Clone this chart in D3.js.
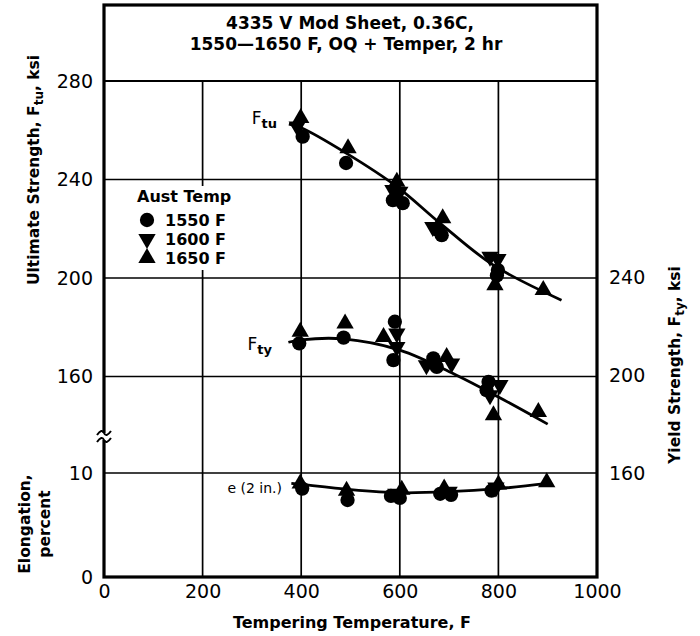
<!DOCTYPE html>
<html>
<head>
<meta charset="utf-8">
<script src="https://cdn.jsdelivr.net/npm/d3@7"></script>
<style>
body { margin: 0; background: #fff; }
text { font-family: "DejaVu Sans", sans-serif; fill: #000; }
</style>
</head>
<body>
<script>
// Ultimate strength points (tempering temp F, ksi, aust temp)
var ftuTemp = [399, 403, 392, 495, 491, 594, 586, 586, 606, 600, 687, 685, 667, 678, 783, 799, 799, 793, 797, 891];
var ftuValue = [265.0, 257.4, 261.5, 252.7, 246.7, 239.1, 235.7, 231.6, 230.4, 235.0, 224.3, 217.4, 220.7, 219.4, 208.6, 207.7, 203.2, 197.1, 201.0, 195.1];
var ftuAust = [1650, 1550, 1600, 1650, 1550, 1650, 1600, 1550, 1550, 1600, 1650, 1550, 1600, 1550, 1600, 1600, 1550, 1650, 1550, 1650];
var ftuCurveTemp = [375, 400, 492, 594, 682, 790, 928];
var ftuCurveValue = [262.5, 261, 250.6, 237.1, 222.2, 205.2, 191.0];

// Yield strength points (right axis, ksi)
var ftyTemp = [398, 396, 489, 486, 590, 567, 594, 587, 594, 668, 695, 705, 675, 654, 780, 803, 783, 776, 790, 881];
var ftyValue = [217.8, 213.0, 221.2, 215.4, 221.9, 215.7, 217.1, 206.2, 211.6, 206.9, 207.5, 204.8, 203.4, 204.1, 197.3, 196.0, 191.8, 193.9, 183.6, 185.0];
var ftyAust = [1650, 1550, 1650, 1550, 1550, 1650, 1600, 1550, 1600, 1550, 1650, 1600, 1550, 1600, 1550, 1600, 1600, 1550, 1650, 1650];
var ftyCurveTemp = [374, 400, 485, 600, 715, 800, 900];
var ftyCurveValue = [213.5, 214.5, 214.9, 210.3, 200.0, 191.1, 180.0];

// Elongation points (percent)
var elTemp = [398, 402, 492, 494, 582, 592, 600, 604, 682, 690, 700, 704, 786, 795, 800, 898];
var elValue = [9.0, 8.5, 8.3, 7.4, 7.8, 8.0, 7.6, 8.4, 8.0, 8.5, 8.2, 7.9, 8.3, 8.6, 8.9, 9.1];
var elAust = [1650, 1550, 1650, 1550, 1550, 1600, 1550, 1650, 1550, 1650, 1600, 1550, 1550, 1600, 1650, 1650];
var elCurveTemp = [380, 400, 500, 600, 700, 800, 900];
var elCurveValue = [9.0, 8.9, 8.4, 8.1, 8.2, 8.5, 9.0];

// Ticks and legend
var xTicks = [0, 200, 400, 600, 800, 1000];
var ftuTicks = [160, 200, 240, 280];
var elTicks = [0, 10];
var ftyTicks = [160, 200, 240];
var austTemps = [1550, 1600, 1650];
var austLabels = ["1550 F", "1600 F", "1650 F"];

var w = 700;
var h = 636;
var mLeft = 104, mRight = 597, mTop = 5, mBottom = 577;

//************** */
var x = d3.scaleLinear().domain([0, 1000]).range([mLeft, mRight]);
var yU = d3.scaleLinear().domain([160, 280]).range([376.5, 81]);
var yR = d3.scaleLinear().domain([160, 240]).range([473, 277.5]);
var yE = d3.scaleLinear().domain([0, 10]).range([mBottom, 473]);

var svg = d3.select("body")
    .append("svg")
    .attr("width", w)
    .attr("height", h);

//Gridlines
//************** */
svg.selectAll("line.vgrid")
    .data([200, 400, 600, 800])
    .enter()
    .append("line")
    .attr("x1", function (d) { return x(d); })
    .attr("x2", function (d) { return x(d); })
    .attr("y1", yU(280))
    .attr("y2", mBottom)
    .style("stroke", "#000")
    .style("stroke-width", 1.7);

svg.selectAll("line.hgrid")
    .data([160, 200, 240, 280])
    .enter()
    .append("line")
    .attr("x1", mLeft)
    .attr("x2", mRight)
    .attr("y1", function (d) { return yU(d); })
    .attr("y2", function (d) { return yU(d); })
    .style("stroke", "#000")
    .style("stroke-width", function (d) { return d == 280 ? 2.2 : 1.7; });

svg.append("line")
    .attr("x1", mLeft)
    .attr("x2", mRight)
    .attr("y1", yE(10))
    .attr("y2", yE(10))
    .style("stroke", "#000")
    .style("stroke-width", 1.7);

//Legend box (white, covers grid)
//************** */
svg.append("rect")
    .attr("x", mLeft + 3)
    .attr("y", 186)
    .attr("width", 132)
    .attr("height", 84)
    .style("fill", "#fff");

//Frame
//************** */
svg.append("rect")
    .attr("x", mLeft)
    .attr("y", mTop)
    .attr("width", mRight - mLeft)
    .attr("height", mBottom - mTop)
    .style("fill", "none")
    .style("stroke", "#000")
    .style("stroke-width", 3.2);

// axis break on left
svg.append("rect")
    .attr("x", mLeft - 4)
    .attr("y", 433)
    .attr("width", 8)
    .attr("height", 7)
    .style("fill", "#fff");
svg.selectAll("path.brk")
    .data([433, 440])
    .enter()
    .append("path")
    .attr("d", function (d) {
        return "M" + (mLeft - 7) + "," + (d + 2) + " Q" + (mLeft - 2) + "," + (d - 5) + " " + mLeft + "," + d +
            " Q" + (mLeft + 2) + "," + (d + 5) + " " + (mLeft + 7) + "," + (d - 2);
    })
    .style("fill", "none")
    .style("stroke", "#000")
    .style("stroke-width", 2);

//Title
//************** */
svg.append("text")
    .attr("x", 350)
    .attr("y", 29)
    .attr("text-anchor", "middle")
    .style("font-weight", "bold")
    .style("font-size", "17px")
    .text("4335 V Mod Sheet, 0.36C,");
svg.append("text")
    .attr("x", 346)
    .attr("y", 50)
    .attr("text-anchor", "middle")
    .style("font-weight", "bold")
    .style("font-size", "17px")
    .text("1550\u20141650 F, OQ + Temper, 2 hr");

//Axes
//************** */
var xAxis = svg.append("g")
    .attr("transform", "translate(0," + mBottom + ")")
    .call(d3.axisBottom(x).tickValues(xTicks).tickSize(0).tickPadding(8).tickFormat(d3.format("d")));
var uAxis = svg.append("g")
    .attr("transform", "translate(" + mLeft + ",0)")
    .call(d3.axisLeft(yU).tickValues(ftuTicks).tickSize(0).tickPadding(11));
var eAxis = svg.append("g")
    .attr("transform", "translate(" + mLeft + ",0)")
    .call(d3.axisLeft(yE).tickValues(elTicks).tickSize(0).tickPadding(11));
var rAxis = svg.append("g")
    .attr("transform", "translate(" + mRight + ",0)")
    .call(d3.axisRight(yR).tickValues(ftyTicks).tickSize(0).tickPadding(12));

[xAxis, uAxis, eAxis, rAxis].forEach(function (a) {
    a.select(".domain").remove();
    a.selectAll("text")
        .style("font-family", "DejaVu Sans, sans-serif")
        .style("font-size", "19px")
        .style("fill", "#000");
});

//Axis titles
//************** */
svg.append("text")
    .attr("x", 352)
    .attr("y", 628)
    .attr("text-anchor", "middle")
    .style("font-weight", "bold")
    .style("font-size", "16px")
    .text("Tempering Temperature, F");

function subLabel(g, before, sub, after) {
    var t = g.append("text")
        .attr("text-anchor", "middle")
        .style("font-weight", "bold")
        .style("font-size", "15.5px");
    t.append("tspan").text(before);
    t.append("tspan").attr("dy", 4).style("font-size", "12px").text(sub);
    t.append("tspan").attr("dy", -4).text(after);
    return t;
}

subLabel(svg.append("g").attr("transform", "translate(39,170) rotate(-90)"),
    "Ultimate Strength, F", "tu", ", ksi");
subLabel(svg.append("g").attr("transform", "translate(680,365) rotate(-90)"),
    "Yield Strength, F", "ty", ", ksi");

var elg = svg.append("g").attr("transform", "translate(0,524) rotate(-90)");
elg.append("text").attr("x", 0).attr("y", 30).attr("text-anchor", "middle")
    .style("font-weight", "bold").style("font-size", "15.5px").text("Elongation,");
elg.append("text").attr("x", 0).attr("y", 50).attr("text-anchor", "middle")
    .style("font-weight", "bold").style("font-size", "15.5px").text("percent");

//Curves
//************** */
var lineU = d3.line()
    .x(function (d, i) { return x(ftuCurveTemp[i]); })
    .y(function (d) { return yU(d); })
    .curve(d3.curveCatmullRom);
var lineR = d3.line()
    .x(function (d, i) { return x(ftyCurveTemp[i]); })
    .y(function (d) { return yR(d); })
    .curve(d3.curveCatmullRom);
var lineE = d3.line()
    .x(function (d, i) { return x(elCurveTemp[i]); })
    .y(function (d) { return yE(d); })
    .curve(d3.curveCatmullRom);

[[lineU, ftuCurveValue], [lineR, ftyCurveValue], [lineE, elCurveValue]].forEach(function (c) {
    svg.append("path")
        .attr("d", c[0](c[1]))
        .style("fill", "none")
        .style("stroke", "#000")
        .style("stroke-width", 2.8);
});

//Points
//************** */
var symbolPath = {
    1550: d3.symbol().type(d3.symbolCircle).size(160)(),
    1600: d3.symbol().type(d3.symbolTriangle).size(130)(),
    1650: d3.symbol().type(d3.symbolTriangle).size(130)()
};
function rot(a) { return a == 1600 ? " rotate(180)" : ""; }

function drawPoints(temps, vals, aust, ys) {
    svg.append("g").selectAll("path")
        .data(vals)
        .enter()
        .append("path")
        .attr("d", function (d, i) { return symbolPath[aust[i]]; })
        .attr("transform", function (d, i) {
            return "translate(" + x(temps[i]) + "," + ys(d) + ")" + rot(aust[i]);
        })
        .style("fill", "#000");
}
drawPoints(ftuTemp, ftuValue, ftuAust, yU);
drawPoints(ftyTemp, ftyValue, ftyAust, yR);
drawPoints(elTemp, elValue, elAust, yE);

//Curve labels
//************** */
function fLabel(xp, yp, sub) {
    var t = svg.append("text")
        .attr("x", xp)
        .attr("y", yp)
        .attr("text-anchor", "end")
        .style("font-size", "17px");
    t.append("tspan").text("F");
    t.append("tspan").attr("dy", 4).style("font-size", "13px").style("font-weight", "bold").text(sub);
}
fLabel(277, 124, "tu");
fLabel(272, 350, "ty");

svg.append("text")
    .attr("x", 282)
    .attr("y", yE(8.6) + 5)
    .attr("text-anchor", "end")
    .style("font-size", "14px")
    .text("e (2 in.)");

//Legend
//************** */
svg.append("text")
    .attr("x", 137)
    .attr("y", 202)
    .style("font-weight", "bold")
    .style("font-size", "16px")
    .text("Aust Temp");

var leg = svg.selectAll("g.leg")
    .data(austTemps)
    .enter()
    .append("g")
    .attr("transform", function (d, i) { return "translate(147," + (220 + i * 19) + ")"; });
leg.append("path")
    .attr("d", function (d) { return symbolPath[d]; })
    .attr("transform", function (d) { return rot(d).trim(); })
    .style("fill", "#000");
leg.append("text")
    .attr("x", 18)
    .attr("y", 6)
    .style("font-weight", "bold")
    .style("font-size", "16px")
    .text(function (d, i) { return austLabels[i]; });
</script>
</body>
</html>
